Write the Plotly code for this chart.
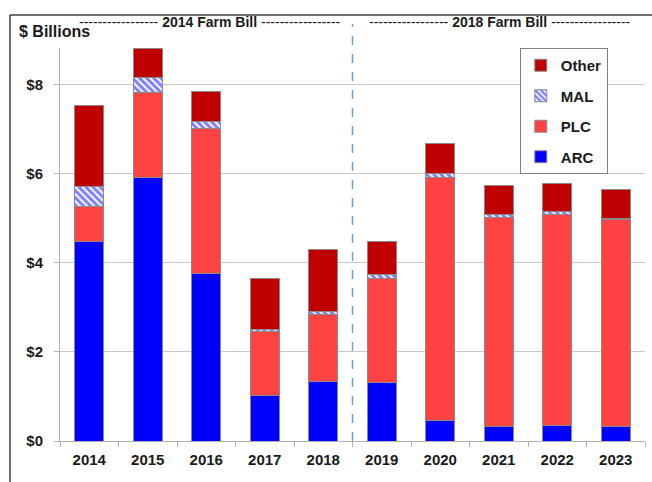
import plotly.graph_objects as go

years = ["2014", "2015", "2016", "2017", "2018", "2019", "2020", "2021", "2022", "2023"]
arc = [4.49, 5.91, 3.77, 1.02, 1.33, 1.32, 0.46, 0.32, 0.34, 0.32]
plc = [0.77, 1.92, 3.25, 1.43, 1.52, 2.32, 5.46, 4.71, 4.75, 4.65]
mal = [0.45, 0.33, 0.15, 0.06, 0.06, 0.11, 0.09, 0.06, 0.06, 0.04]
other = [1.82, 0.65, 0.68, 1.15, 1.39, 0.74, 0.68, 0.65, 0.64, 0.65]
ytick_vals = [0, 2, 4, 6, 8]
ytick_text = ["$0", "$2", "$4", "$6", "$8"]
dashes = "-----------------"

outline = dict(color="#8a8a8a", width=1)
fig = go.Figure()
fig.add_trace(go.Bar(name="ARC", x=years, y=arc, legendgroup="a", legendrank=4,
                     marker=dict(color="#0000ff", line=outline)))
fig.add_trace(go.Bar(name="PLC", x=years, y=plc, legendgroup="b", legendrank=3,
                     marker=dict(color="#ff4343", line=outline)))
fig.add_trace(go.Bar(name="MAL", x=years, y=mal, legendgroup="c", legendrank=2,
                     marker=dict(color="white", line=outline,
                                 pattern=dict(shape="\\", fgcolor="#0000ff", bgcolor="white",
                                              size=5, solidity=0.6))))
fig.add_trace(go.Bar(name="Other", x=years, y=other, legendgroup="d", legendrank=1,
                     marker=dict(color="#c00000", line=outline)))

fig.update_layout(
    width=652, height=482,
    margin=dict(l=60, r=7, t=48, b=41, autoexpand=False),
    barmode="stack", bargap=0.5,
    plot_bgcolor="white", paper_bgcolor="white",
    font=dict(family="Arial, Liberation Sans, sans-serif", color="#1a1a1a"),
    showlegend=True,
    legend=dict(x=0.786, y=1.0, xanchor="left", yanchor="top",
                traceorder="grouped", tracegroupgap=8,
                bordercolor="#808080", borderwidth=1, bgcolor="white",
                font=dict(size=15, weight="bold", color="#1a1a1a")),
    xaxis=dict(showline=True, linecolor="#b0b0b0", linewidth=1, automargin=False,
               ticks="outside", tickson="boundaries", ticklen=5, tickcolor="#b0b0b0",
               tickfont=dict(size=15, weight="bold"), ticklabelstandoff=5),
    yaxis=dict(range=[0, 8.83], tickvals=ytick_vals, ticktext=ytick_text, automargin=False,
               showline=True, linecolor="#b0b0b0", linewidth=1,
               ticks="outside", ticklen=5, tickcolor="#b0b0b0",
               showgrid=True, gridcolor="#c8c8c8", gridwidth=1, zeroline=False,
               tickfont=dict(size=15, weight="bold"), ticklabelstandoff=8),
)

# frame lines (top and left)
fig.add_shape(type="line", xref="paper", yref="paper", x0=-0.0855, x1=1.02, y0=1.084, y1=1.084,
              line=dict(color="#404040", width=1.5))
fig.add_shape(type="line", xref="paper", yref="paper", x0=-0.0855, x1=-0.0855, y0=-0.11, y1=1.084,
              line=dict(color="#404040", width=1.5))
# divider between farm bills
fig.add_shape(type="line", xref="x", yref="paper", x0=4.5, x1=4.5, y0=0, y1=1.061,
              line=dict(color="#6a9fd8", width=1.5, dash="dash"))

fig.add_annotation(text=f"{dashes} <b>2014 Farm Bill</b> {dashes}",
                   xref="paper", yref="paper", x=0.256, y=1.066, xanchor="center", yanchor="middle",
                   showarrow=False, font=dict(size=14, color="#1a1a1a"))
fig.add_annotation(text=f"{dashes} <b>2018 Farm Bill</b> {dashes}",
                   xref="paper", yref="paper", x=0.752, y=1.066, xanchor="center", yanchor="middle",
                   showarrow=False, font=dict(size=14, color="#1a1a1a"))
fig.add_annotation(text="<b>$ Billions</b>", xref="paper", yref="paper",
                   x=-0.073, y=1.041, xanchor="left", yanchor="middle", showarrow=False,
                   font=dict(size=16, color="#1a1a1a"))

fig.write_html("out.html", config={"displayModeBar": False},
               post_script="document.body.style.margin='0';document.body.style.overflow='hidden';")
